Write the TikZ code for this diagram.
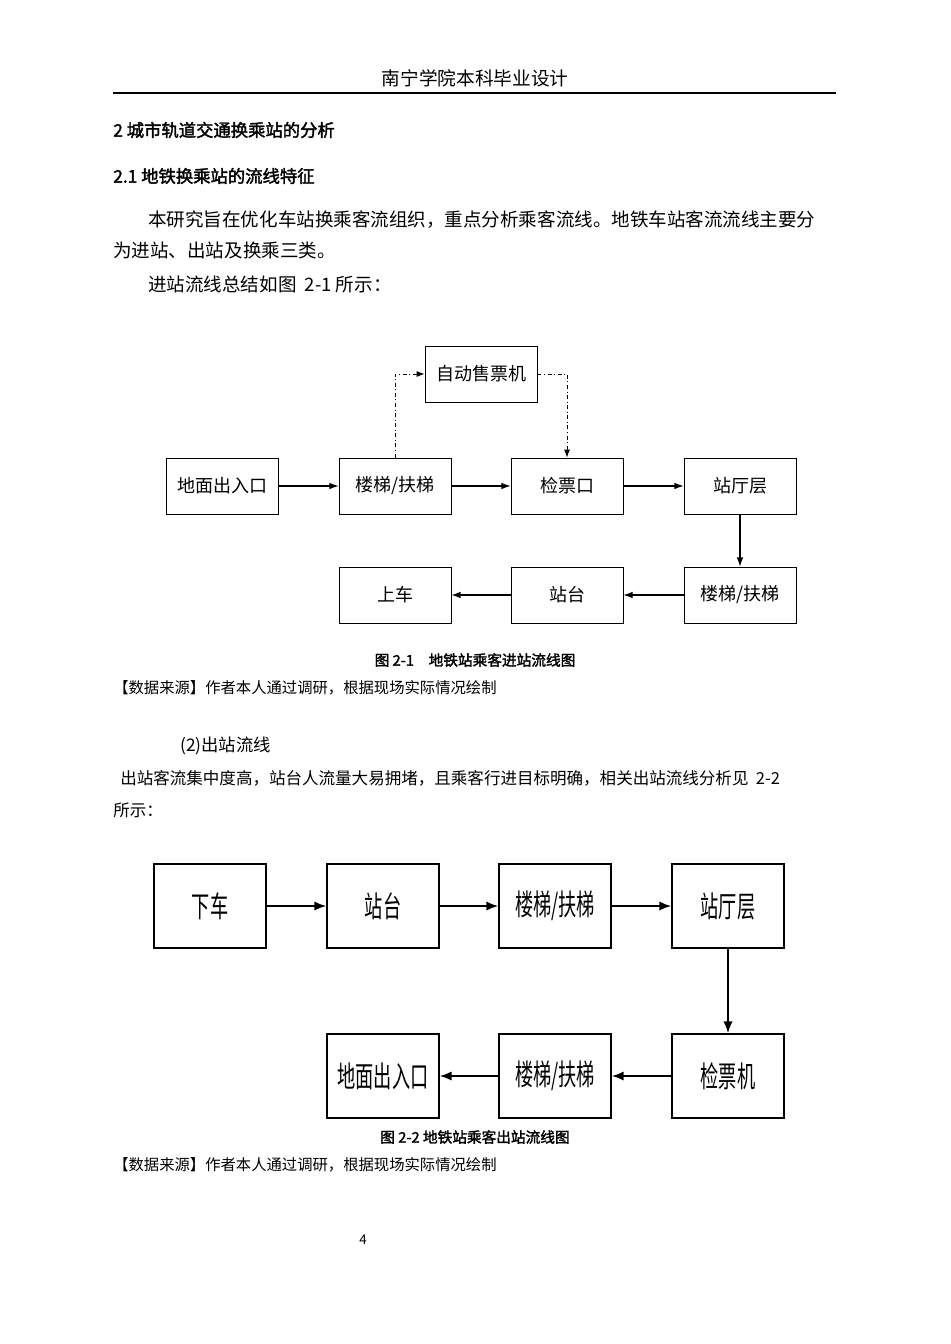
\documentclass[tikz,border=0pt]{standalone}
\usepackage{fontspec}
\setmainfont{Noto Sans CJK SC}[AutoFakeBold=2]
\usetikzlibrary{arrows.meta}
\newcommand{\tall}[1]{\scalebox{0.62}[1]{\fontsize{22pt}{22pt}\selectfont #1}}
\begin{document}
\begin{tikzpicture}[x=0.75pt,y=-0.75pt]
  \tikzstyle{txt}=[anchor=west,inner sep=0]
  \tikzstyle{boxa}=[draw,line width=0.6pt,minimum width=84pt,minimum height=42pt,inner sep=0,font=\fontsize{13.5pt}{14pt}\selectfont]
  \tikzstyle{boxb}=[draw,line width=1.1pt,minimum width=84pt,minimum height=63pt,inner sep=0]
  \tikzstyle{flowa}=[draw,line width=0.8pt,-{Latex[length=7pt,width=5pt]}]
  \tikzstyle{flowb}=[draw,line width=1.4pt,-{Latex[length=9pt,width=7pt]}]
  \tikzstyle{dashed flow}=[draw,line width=0.6pt,dash dot,-{Latex[length=6pt,width=4.5pt]}]
  \useasboundingbox[fill=white] (0,0) rectangle (950,1344);
  % header
  \node (head) at (475,78) {\fontsize{14pt}{14pt}\selectfont 南宁学院本科毕业设计};
  \coordinate (hl) at (113,93);
  \coordinate (hr) at (836,93);
  \draw[line width=1.1pt] (hl) -- (hr);
  \node[txt] (sec) at (113,130) {\fontsize{13pt}{13pt}\selectfont\bfseries 2 城市轨道交通换乘站的分析};
  \node[txt] (sub) at (113,176) {\fontsize{13pt}{13pt}\selectfont\bfseries 2.1 地铁换乘站的流线特征};
  \node[txt] (p1) at (148,220) {\fontsize{13.9pt}{14pt}\selectfont 本研究旨在优化车站换乘客流组织，重点分析乘客流线。地铁车站客流流线主要分};
  \node[txt] (p2) at (113,250) {\fontsize{13.9pt}{14pt}\selectfont 为进站、出站及换乘三类。};
  \node[txt] (p3) at (148,284) {\fontsize{13.9pt}{14pt}\selectfont 进站流线总结如图\ \ 2-1 所示：};
  % figure 2-1
  \node[boxa] (ent) at (222,486) {地面出入口};
  \node[boxa] (st1) at (395,486) {楼梯/扶梯};
  \node[boxa] (gate) at (567,486) {检票口};
  \node[boxa] (hall) at (740,486) {站厅层};
  \node[boxa] (tvm) at (481,374) {自动售票机};
  \node[boxa] (st2) at (740,595) {楼梯/扶梯};
  \node[boxa] (plat) at (567,595) {站台};
  \node[boxa] (board) at (395,595) {上车};
  \path[flowa] (ent) -- (st1);
  \path[flowa] (st1) -- (gate);
  \path[flowa] (gate) -- (hall);
  \path[flowa] (hall) -- (st2);
  \path[flowa] (st2) -- (plat);
  \path[flowa] (plat) -- (board);
  \path[dashed flow] (st1.north) |- (tvm.west);
  \path[dashed flow] (tvm.east) -| (gate.north);
  \node (cap1) at (475,660) {\fontsize{11pt}{11pt}\selectfont\bfseries 图 2-1\quad 地铁站乘客进站流线图};
  \node[txt] (src1) at (113,688) {\fontsize{11.5pt}{12pt}\selectfont 【数据来源】作者本人通过调研，根据现场实际情况绘制};
  \node[txt] (p4) at (180,746) {\fontsize{13pt}{13pt}\selectfont (2)出站流线};
  \node[txt] (p5) at (120,778) {\fontsize{12.4pt}{13pt}\selectfont 出站客流集中度高，站台人流量大易拥堵，且乘客行进目标明确，相关出站流线分析见\ \ 2-2};
  \node[txt] (p6) at (113,810) {\fontsize{12.4pt}{13pt}\selectfont 所示：};
  % figure 2-2
  \node[boxb] (alight) at (210,906) {\tall{下车}};
  \node[boxb] (plat2) at (383,906) {\tall{站台}};
  \node[boxb] (st3) at (555,906) {\tall{楼梯/扶梯}};
  \node[boxb] (hall2) at (728,906) {\tall{站厅层}};
  \node[boxb] (gate2) at (728,1076) {\tall{检票机}};
  \node[boxb] (st4) at (555,1076) {\tall{楼梯/扶梯}};
  \node[boxb] (exit) at (383,1076) {\tall{地面出入口}};
  \path[flowb] (alight) -- (plat2);
  \path[flowb] (plat2) -- (st3);
  \path[flowb] (st3) -- (hall2);
  \path[flowb] (hall2) -- (gate2);
  \path[flowb] (gate2) -- (st4);
  \path[flowb] (st4) -- (exit);
  \node (cap2) at (475,1137) {\fontsize{11pt}{11pt}\selectfont\bfseries 图 2-2 地铁站乘客出站流线图};
  \node[txt] (src2) at (113,1165) {\fontsize{11.5pt}{12pt}\selectfont 【数据来源】作者本人通过调研，根据现场实际情况绘制};
  \node (page) at (363,1240) {\fontsize{10pt}{10pt}\selectfont 4};
\end{tikzpicture}
\end{document}
